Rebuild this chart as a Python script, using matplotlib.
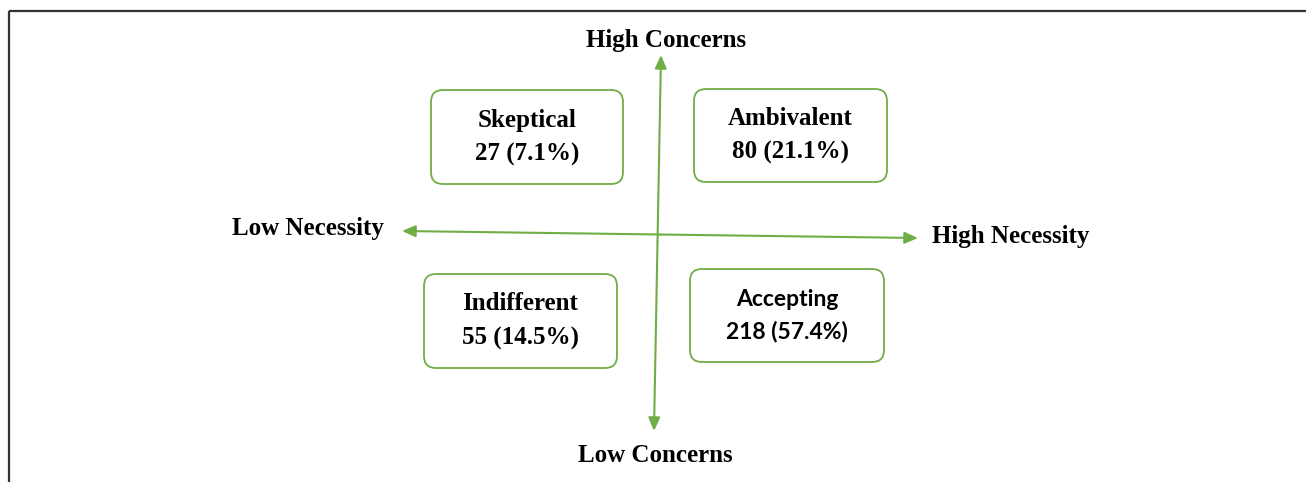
import matplotlib.pyplot as plt
from matplotlib.patches import FancyBboxPatch

plt.rcParams['figure.dpi'] = 100

# Quadrant data (necessity-concerns framework)
categories = ['Skeptical', 'Ambivalent', 'Indifferent', 'Accepting']
counts = [27, 80, 55, 218]
percents = [7.1, 21.1, 14.5, 57.4]
axis_labels = ['High Concerns', 'Low Concerns', 'Low Necessity', 'High Necessity']

green = '#70AD47'
serif = 'Liberation Serif'

fig = plt.figure(figsize=(13.06, 4.82))
ax = fig.add_axes([0, 0, 1, 1])
ax.set_xlim(0, 1306)
ax.set_ylim(482, 0)
ax.axis('off')

# frame: only top and left edges are visible
ax.plot([8.5, 1306], [10.5, 10.5], color='#333333', lw=1.6, solid_capstyle='butt')
ax.plot([8.5, 8.5], [10.5, 482], color='#333333', lw=1.6, solid_capstyle='butt')

# boxes: (left, top, right, bottom)
boxes = [(431, 90, 623, 184), (694, 89, 887, 182), (424, 274, 617, 368), (690, 269, 884, 362)]
for (x0, y0, x1, y1), cat, n, p in zip(boxes, categories, counts, percents):
    ax.add_patch(FancyBboxPatch((x0 + 12, y0 + 12), (x1 - x0) - 24, (y1 - y0) - 24,
                                boxstyle='round,pad=12', fc='white', ec=green, lw=1.3))
    cx = (x0 + x1) / 2
    cy = (y0 + y1) / 2
    if cat == 'Accepting':
        fam = 'Lato'
        fs = 16.5
        gap = 15.5
    else:
        fam = serif
        fs = 18
        gap = 17
    ax.text(cx, cy - gap, cat, ha='center', va='center', fontsize=fs,
            fontweight='bold', family=fam)
    ax.text(cx, cy + gap, f'{n} ({p}%)', ha='center', va='center', fontsize=fs,
            fontweight='bold', family=fam)

# axes arrows
arrow = dict(arrowstyle='-|>,head_length=0.8,head_width=0.35', color=green, lw=1.5,
             shrinkA=0, shrinkB=0)
ax.annotate('', xy=(661, 55), xytext=(657.5, 242), arrowprops=arrow)
ax.annotate('', xy=(654, 431), xytext=(657.5, 242), arrowprops=arrow)
ax.annotate('', xy=(402, 231), xytext=(660, 234.5), arrowprops=arrow)
ax.annotate('', xy=(918, 238), xytext=(660, 234.5), arrowprops=arrow)

# axis end labels
label_pos = [(666, 40, 'center'), (655, 456, 'center'), (384, 229, 'right'), (932, 237, 'left')]
for (x, y, ha), lab in zip(label_pos, axis_labels):
    ax.text(x, y, lab, ha=ha, va='center', fontsize=18, fontweight='bold', family=serif)

fig.savefig('out.png', dpi=100)
